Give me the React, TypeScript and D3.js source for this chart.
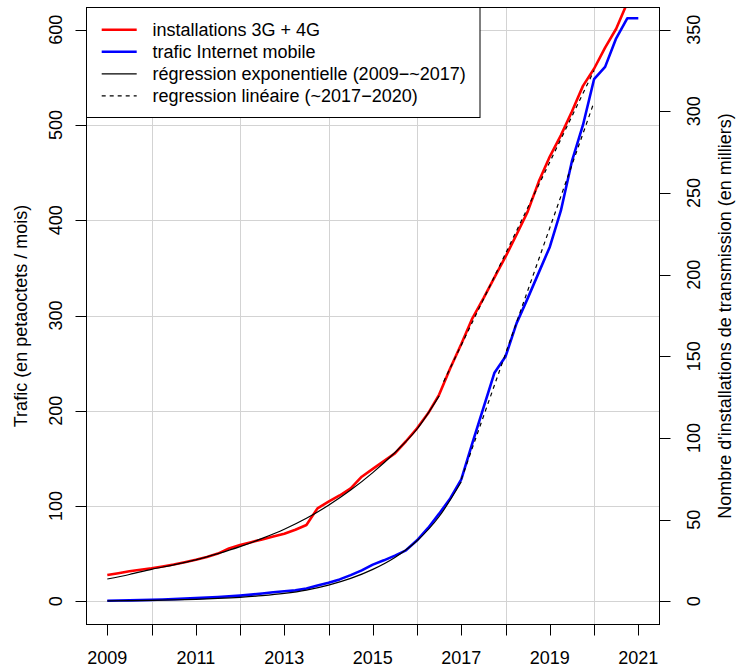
import React from "react";
import * as d3 from "d3";

// quarterly time axis
const quarters = [
  2009, 2009.25, 2009.5, 2009.75, 2010, 2010.25, 2010.5, 2010.75,
  2011, 2011.25, 2011.5, 2011.75, 2012, 2012.25, 2012.5, 2012.75,
  2013, 2013.25, 2013.5, 2013.75, 2014, 2014.25, 2014.5, 2014.75,
  2015, 2015.25, 2015.5, 2015.75, 2016, 2016.25, 2016.5, 2016.75,
  2017, 2017.25, 2017.5, 2017.75, 2018, 2018.25, 2018.5, 2018.75,
  2019, 2019.25, 2019.5, 2019.75, 2020, 2020.25, 2020.5, 2020.75, 2021,
];

// installations 3G + 4G (thousands, right axis)
const installations = [
  16.1, 17.2, 18.4, 19.3, 20.2, 21.3, 22.5, 23.9,
  25.4, 27.1, 29.2, 32.4, 34.4, 36.2, 37.9, 39.7,
  41.4, 43.8, 46.7, 56.9, 61.0, 64.8, 69.2, 76.3,
  81.1, 85.8, 90.6, 98.0, 105.9, 115.1, 126.6, 142.7,
  157.5, 173.3, 185.5, 198.4, 211.0, 224.6, 238.6, 257.0,
  272.3, 285.3, 299.9, 315.6, 326.1, 339.0, 350.6, 366.4,
];

// trafic Internet mobile (PB / month, left axis)
const trafic = [
  0.5, 0.8, 1.0, 1.2, 1.5, 1.9, 2.3, 2.8,
  3.3, 3.9, 4.5, 5.2, 6.0, 7.0, 8.2, 9.5,
  10.5, 11.5, 13.5, 16.5, 19.5, 23, 27.5, 32.5,
  38.5, 43, 48, 53.5, 64, 77, 92, 108,
  128, 166, 203, 240, 257, 292, 318, 345,
  372, 410, 462, 500, 548, 561, 591, 612, 612,
];

// exponential regression (2009 - ~2017)
const expInstYears = [2009, 2009.5, 2010, 2010.5, 2011, 2011.5, 2012, 2012.5, 2013, 2013.5, 2014, 2014.5, 2015, 2015.5, 2016, 2016.5];
const expInst = [13.65, 16.4, 19.6, 22.3, 25.4, 29.2, 33.5, 38.5, 44.1, 50.8, 58.8, 68.1, 78.8, 91.1, 105.5, 125.8];
const expTrafYears = [2009, 2009.5, 2010, 2010.5, 2011, 2011.5, 2012, 2012.5, 2013, 2013.5, 2014, 2014.5, 2015, 2015.5, 2016, 2016.5, 2017];
const expTraf = [0.5, 0.75, 1.05, 1.5, 2.1, 3.0, 4.2, 5.9, 8.3, 11.8, 17.0, 24.0, 33.5, 46.0, 63.5, 89.0, 125.5];

// linear regression (~2017 - 2020)
const linInstYears = [2016.6, 2020];
const linInst = [134.5, 325];
const linTrafYears = [2017, 2020];
const linTraf = [128, 524];

const yearTicks = [2009, 2010, 2011, 2012, 2013, 2014, 2015, 2016, 2017, 2018, 2019, 2020, 2021];
const yearLabels = [2009, 2011, 2013, 2015, 2017, 2019, 2021];
const gridYears = [2010, 2012, 2014, 2016, 2018, 2020];
const leftTicks = [0, 100, 200, 300, 400, 500, 600];
const rightTicks = [0, 50, 100, 150, 200, 250, 300, 350];

const legendLabels = [
  "installations 3G + 4G",
  "trafic Internet mobile",
  "régression exponentielle (2009−~2017)",
  "regression linéaire (~2017−2020)",
];

const W = 737;
const H = 671;
const FONT = "'Liberation Sans', Arial, Helvetica, sans-serif";

export default function App() {
  const box = { l: 86.5, r: 659.5, t: 7.5, b: 624.5 };
  const x = d3.scaleLinear().domain([2009, 2021]).range([107.3, 638.3]);
  const yL = d3.scaleLinear().domain([0, 600]).range([601.3, 29.7]);
  const yR = d3.scaleLinear().domain([0, 350]).range([601.3, 29.7]);

  const lineR = (xs: number[], ys: number[]) =>
    d3.line<number>().x((_, i) => x(xs[i])).y((d) => yR(d))(ys) || "";
  const lineL = (xs: number[], ys: number[]) =>
    d3.line<number>().x((_, i) => x(xs[i])).y((d) => yL(d))(ys) || "";
  const lineRc = (xs: number[], ys: number[]) =>
    d3.line<number>().x((_, i) => x(xs[i])).y((d) => yR(d)).curve(d3.curveMonotoneX)(ys) || "";
  const lineLc = (xs: number[], ys: number[]) =>
    d3.line<number>().x((_, i) => x(xs[i])).y((d) => yL(d)).curve(d3.curveMonotoneX)(ys) || "";

  const redPath = lineR(quarters.slice(0, installations.length), installations);
  const bluePath = lineL(quarters, trafic);

  const legendRows = [29.8, 51.8, 73.8, 95.8];
  const legendStyles = [
    { stroke: "#ff0000", w: 2.6, dash: undefined },
    { stroke: "#0000ff", w: 2.6, dash: undefined },
    { stroke: "#000000", w: 1.2, dash: undefined },
    { stroke: "#000000", w: 1.2, dash: "4,4" },
  ];

  return (
    <svg
      width={W}
      height={H}
      style={{ position: "absolute", left: 0, top: 0, background: "#fff" }}
      fontFamily={FONT}
    >
      <defs>
        <clipPath id="plotclip">
          <rect x={box.l} y={box.t} width={box.r - box.l} height={box.b - box.t} />
        </clipPath>
      </defs>
      <rect x={0} y={0} width={W} height={H} fill="#fff" />

      {/* grid */}
      <g stroke="#d3d3d3" strokeWidth={1}>
        {gridYears.map((g) => (
          <line key={"gx" + g} x1={Math.round(x(g)) + 0.5} x2={Math.round(x(g)) + 0.5} y1={box.t} y2={box.b} />
        ))}
        {leftTicks.map((t) => (
          <line key={"gy" + t} x1={box.l} x2={box.r} y1={Math.round(yL(t)) + 0.5} y2={Math.round(yL(t)) + 0.5} />
        ))}
      </g>

      {/* data */}
      <g clipPath="url(#plotclip)" fill="none" strokeLinejoin="round">
        <path d={redPath} stroke="#ff0000" strokeWidth={2.6} />
        <path d={bluePath} stroke="#0000ff" strokeWidth={2.6} />
        <path d={lineRc(expInstYears, expInst)} stroke="#000" strokeWidth={1.2} />
        <path d={lineLc(expTrafYears, expTraf)} stroke="#000" strokeWidth={1.2} />
        <path d={lineR(linInstYears, linInst)} stroke="#000" strokeWidth={1.2} strokeDasharray="4,4" />
        <path d={lineL(linTrafYears, linTraf)} stroke="#000" strokeWidth={1.2} strokeDasharray="4,4" />
      </g>

      {/* legend */}
      <rect x={box.l} y={box.t} width={480 - box.l} height={117.5 - box.t} fill="#fff" stroke="#000" strokeWidth={1} />
      {legendLabels.map((lab, i) => (
        <g key={lab}>
          <line
            x1={101.7}
            x2={136.7}
            y1={legendRows[i]}
            y2={legendRows[i]}
            stroke={legendStyles[i].stroke}
            strokeWidth={legendStyles[i].w}
            strokeDasharray={legendStyles[i].dash}
          />
          <text x={152.5} y={legendRows[i] + 6.3} fontSize={18} fill="#000">
            {lab}
          </text>
        </g>
      ))}

      {/* plot box */}
      <rect x={box.l} y={box.t} width={box.r - box.l} height={box.b - box.t} fill="none" stroke="#000" strokeWidth={1} />

      {/* bottom axis */}
      <g stroke="#000" strokeWidth={1}>
        {yearTicks.map((t) => (
          <line key={"xt" + t} x1={Math.round(x(t)) + 0.5} x2={Math.round(x(t)) + 0.5} y1={box.b} y2={box.b + 11} />
        ))}
      </g>
      {yearLabels.map((t) => (
        <text key={"xl" + t} x={x(t)} y={664} fontSize={18} textAnchor="middle" fill="#000">
          {t}
        </text>
      ))}

      {/* left axis */}
      <g stroke="#000" strokeWidth={1}>
        {leftTicks.map((t) => (
          <line key={"lt" + t} x1={box.l - 11} x2={box.l} y1={Math.round(yL(t)) + 0.5} y2={Math.round(yL(t)) + 0.5} />
        ))}
      </g>
      {leftTicks.map((t) => (
        <text
          key={"ll" + t}
          transform={`translate(61.5,${yL(t)}) rotate(-90)`}
          fontSize={18}
          textAnchor="middle"
          fill="#000"
        >
          {t}
        </text>
      ))}

      {/* right axis */}
      <g stroke="#000" strokeWidth={1}>
        {rightTicks.map((t) => (
          <line key={"rt" + t} x1={box.r} x2={box.r + 11} y1={Math.round(yR(t)) + 0.5} y2={Math.round(yR(t)) + 0.5} />
        ))}
      </g>
      {rightTicks.map((t) => (
        <text
          key={"rl" + t}
          transform={`translate(700,${yR(t)}) rotate(-90)`}
          fontSize={18}
          textAnchor="middle"
          fill="#000"
        >
          {t}
        </text>
      ))}

      {/* axis titles */}
      <text
        transform={`translate(26.5,${(box.t + box.b) / 2}) rotate(-90)`}
        fontSize={18}
        textAnchor="middle"
        fill="#000"
      >
        Trafic (en petaoctets / mois)
      </text>
      <text
        transform={`translate(731,${(box.t + box.b) / 2}) rotate(-90)`}
        fontSize={18}
        textAnchor="middle"
        fill="#000"
      >
        Nombre d'installations de transmission (en milliers)
      </text>
    </svg>
  );
}
